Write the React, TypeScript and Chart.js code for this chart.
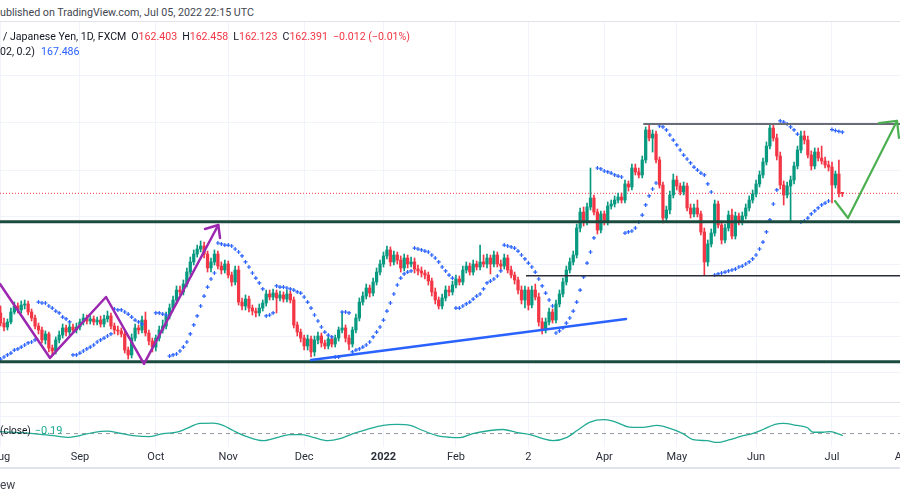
import React, { useEffect, useRef } from "react";
import { Chart, registerables } from "chart.js";

Chart.register(...registerables);
Chart.defaults.font.family = "Roboto, sans-serif";

// ---------------- data (daily bars, index -1 = 30 Jul 2021 ... 243 = 5 Jul 2022) ----------------
const FIRST_BAR_INDEX = -1;
const FIRST_OPEN = 152.42;

const closePrices = [
  151.58, 151.25, 151.67, 152.50, 153.00, 152.67, 153.08, 153.17, 152.50, 152.00,
  151.33, 151.00, 150.17, 150.67, 149.50, 149.25, 150.17, 150.58, 151.17, 150.83,
  151.25, 151.00, 151.25, 151.67, 152.00, 151.75, 151.92, 151.67, 151.83, 151.50,
  151.92, 152.17, 151.33, 151.00, 150.92, 150.67, 149.33, 148.92, 150.33, 151.17,
  151.00, 151.83, 150.75, 150.08, 149.58, 150.33, 151.00, 151.33, 152.17, 152.83,
  153.50, 154.33, 154.17, 154.83, 155.83, 156.67, 157.33, 157.75, 158.00, 157.33,
  156.17, 156.67, 157.33, 156.33, 156.00, 156.50, 155.58, 155.00, 156.00, 153.33,
  153.00, 153.58, 152.83, 152.58, 152.42, 152.83, 153.25, 154.00, 153.75, 154.08,
  153.67, 153.92, 153.58, 154.00, 153.50, 151.42, 150.83, 150.33, 149.67, 150.25,
  149.17, 150.17, 150.50, 149.92, 149.67, 150.25, 149.83, 150.33, 151.00, 151.17,
  150.33, 149.83, 151.00, 152.00, 153.33, 153.83, 154.50, 154.08, 155.00, 155.83,
  156.50, 157.17, 157.67, 156.67, 157.25, 156.83, 156.17, 157.00, 156.50, 156.67,
  156.08, 155.92, 155.75, 155.58, 155.08, 154.17, 153.50, 153.00, 153.67, 154.33,
  154.17, 154.75, 155.25, 155.00, 156.00, 156.33, 155.83, 156.50, 156.25, 156.67,
  156.50, 157.00, 156.50, 157.25, 156.50, 156.33, 157.00, 156.00, 155.58, 155.17,
  154.33, 153.50, 154.33, 153.08, 154.33, 153.75, 151.67, 151.00, 151.67, 152.50,
  151.83, 153.17, 154.00, 155.00, 156.00, 156.67, 157.25, 159.50, 160.83, 160.00,
  161.25, 162.00, 160.83, 159.33, 160.67, 160.00, 161.33, 161.50, 161.83, 162.08,
  161.83, 163.17, 162.92, 164.50, 164.17, 163.92, 165.17, 167.67, 167.00, 167.33,
  165.17, 163.08, 160.33, 161.00, 162.25, 163.50, 163.00, 162.50, 163.00, 161.17,
  160.67, 161.17, 160.67, 159.17, 156.67, 158.17, 159.08, 161.50, 159.75, 158.50,
  159.50, 160.58, 158.83, 160.50, 160.00, 160.50, 161.17, 161.83, 162.33, 163.17,
  163.92, 165.00, 166.33, 167.83, 167.00, 165.50, 163.08, 162.25, 163.00, 163.50,
  164.67, 166.00, 167.17, 166.83, 165.58, 164.67, 165.83, 165.33, 165.08, 164.75,
  164.58, 163.08, 164.00, 162.403, 162.391,
];

const highPrices = [
  153.00, 152.00, 151.92, 152.83, 153.33, 153.25, 153.42, 153.50, 153.42, 152.75,
  152.25, 151.58, 151.25, 150.92, 150.83, 149.75, 150.42, 150.92, 151.50, 151.42,
  151.58, 151.50, 151.58, 151.92, 152.33, 152.25, 152.17, 152.17, 152.08, 152.17,
  152.25, 152.58, 152.42, 151.58, 151.33, 151.17, 150.92, 149.58, 150.67, 151.50,
  151.42, 152.17, 152.50, 151.00, 150.33, 150.58, 151.33, 151.83, 152.50, 153.17,
  153.83, 154.67, 154.67, 155.17, 156.17, 157.08, 157.67, 158.08, 158.42, 158.33,
  157.58, 157.00, 157.67, 157.58, 156.67, 156.83, 156.75, 155.83, 156.33, 156.33,
  153.67, 153.92, 153.83, 153.08, 152.83, 153.17, 153.50, 154.33, 154.33, 154.42,
  154.33, 154.25, 154.17, 154.33, 154.25, 153.75, 151.67, 151.08, 150.58, 150.58,
  150.50, 150.50, 150.83, 150.75, 150.17, 150.50, 150.50, 150.58, 151.25, 152.50,
  151.42, 150.58, 151.25, 152.33, 153.67, 154.17, 154.83, 154.75, 155.33, 156.17,
  156.83, 157.50, 158.00, 157.92, 157.58, 157.50, 157.17, 157.33, 157.25, 157.08,
  157.00, 156.42, 156.25, 156.00, 155.83, 155.33, 154.50, 153.75, 154.00, 154.67,
  154.67, 155.08, 155.58, 155.50, 156.33, 156.67, 156.58, 156.83, 156.75, 158.08,
  157.25, 157.33, 157.25, 157.58, 157.50, 156.83, 157.33, 157.25, 156.33, 155.83,
  155.42, 154.67, 154.67, 154.58, 154.67, 154.83, 154.08, 152.00, 152.00, 152.83,
  152.75, 153.50, 154.33, 155.33, 156.33, 157.00, 157.58, 159.83, 161.17, 161.25,
  161.58, 164.50, 162.25, 161.08, 160.92, 160.92, 161.67, 161.83, 162.17, 162.42,
  162.42, 163.50, 163.42, 164.83, 164.83, 164.50, 165.50, 167.92, 168.17, 167.67,
  167.58, 165.42, 163.33, 161.33, 162.58, 164.00, 163.83, 163.25, 163.33, 163.25,
  161.50, 161.50, 161.83, 160.92, 159.50, 158.50, 159.42, 161.83, 161.75, 160.08,
  159.83, 160.92, 161.08, 160.83, 160.75, 160.83, 161.50, 162.17, 162.67, 163.50,
  164.25, 165.33, 166.67, 168.17, 168.17, 167.33, 165.83, 163.42, 163.33, 163.83,
  165.00, 166.33, 167.58, 167.58, 167.17, 165.92, 166.17, 166.17, 166.33, 165.42,
  165.08, 165.00, 164.25, 165.17, 162.458,
];

const lowPrices = [
  151.33, 150.92, 151.00, 151.50, 152.33, 152.42, 152.42, 152.75, 152.25, 151.75,
  151.08, 150.67, 149.92, 149.83, 149.17, 148.83, 149.00, 149.92, 150.33, 150.50,
  150.58, 150.75, 150.75, 151.00, 151.42, 151.50, 151.50, 151.42, 151.42, 151.25,
  151.25, 151.67, 151.08, 150.67, 150.58, 150.42, 149.08, 148.58, 148.67, 150.08,
  150.67, 150.75, 150.50, 149.75, 149.17, 149.25, 150.08, 150.75, 151.08, 151.92,
  152.58, 153.25, 153.92, 153.92, 154.58, 155.58, 156.42, 157.08, 157.50, 157.00,
  155.83, 155.83, 156.42, 156.08, 155.67, 155.75, 155.33, 154.67, 154.75, 153.08,
  152.67, 152.67, 152.50, 152.25, 152.08, 152.17, 152.58, 153.00, 153.50, 153.50,
  152.42, 153.42, 153.33, 153.33, 153.25, 151.17, 150.50, 150.00, 149.33, 149.33,
  148.75, 148.83, 149.83, 149.58, 149.42, 149.42, 149.58, 149.58, 150.08, 150.75,
  150.00, 149.33, 149.58, 150.75, 151.75, 153.08, 153.58, 153.75, 153.83, 154.75,
  155.58, 156.25, 156.92, 156.33, 156.42, 156.50, 155.83, 155.92, 156.17, 156.25,
  155.75, 155.58, 155.42, 155.25, 154.75, 153.83, 153.17, 152.75, 152.75, 153.42,
  153.83, 153.92, 154.50, 154.75, 154.75, 155.75, 155.58, 155.58, 156.00, 156.00,
  156.25, 156.17, 155.67, 156.25, 156.25, 156.00, 156.08, 155.75, 155.33, 154.83,
  154.00, 153.17, 152.83, 152.67, 152.83, 153.50, 151.33, 150.67, 150.75, 151.42,
  151.58, 151.58, 152.92, 153.75, 154.75, 155.75, 156.42, 157.00, 159.17, 159.67,
  159.75, 161.00, 160.58, 159.00, 159.08, 159.75, 159.75, 161.08, 161.25, 161.58,
  161.58, 161.58, 162.58, 162.67, 163.92, 163.67, 163.67, 164.92, 166.75, 165.83,
  164.92, 162.83, 159.92, 160.08, 160.67, 162.00, 162.67, 162.25, 162.25, 160.92,
  160.33, 160.42, 160.42, 158.92, 155.58, 156.33, 157.92, 158.83, 159.50, 158.17,
  158.25, 159.25, 158.58, 158.58, 159.75, 159.75, 160.25, 160.92, 161.58, 162.08,
  162.92, 163.67, 164.75, 166.08, 166.75, 165.17, 162.75, 161.42, 162.00, 160.00,
  163.17, 164.42, 165.75, 166.50, 165.33, 164.33, 164.42, 165.08, 164.83, 164.50,
  164.25, 161.58, 162.83, 162.08, 162.123,
];

// Parabolic SAR (0.02, 0.02, 0.2), one value per bar, null where no dot is visible
const sarValues = [
  148.58, 148.75, 148.92, 149.08, 149.33, 149.42, 149.58, 149.75, 149.92, 150.00,
  150.17, 153.33, 153.25, 153.25, 153.00, 152.83, 152.58, 152.42, 152.08, 151.92,
  151.67, 148.92, 148.92, 149.08, 149.25, 149.42, 149.58, 149.75, 150.00, 150.17,
  150.33, 150.50, 150.67, 152.75, 152.67, 152.67, 152.50, 152.33, 152.08, 151.83,
  151.67, 151.50, null, null, null, 152.42, 152.42, 152.33, 152.25, 148.83,
  148.92, 149.00, 149.25, 149.58, 150.00, 150.67, 151.42, 152.17, 153.00, 153.83,
  154.58, 155.25, 155.75, 158.25, 158.17, 158.08, 158.08, 158.00, 157.75, 157.50,
  157.17, 156.67, 156.25, 155.75, 155.33, 154.92, 154.42, 152.17, 152.25, 152.42,
  154.67, 154.58, 154.58, 154.50, 154.42, 154.33, 154.17, 154.08, 153.75, 153.33,
  152.83, 152.25, 151.75, 151.25, 150.83, 150.58, 150.42, 148.75, 148.75, 152.50,
  152.50, 152.42, 149.17, 149.33, 149.42, 149.58, 149.75, 150.00, 150.42, 150.83,
  151.25, 151.83, 152.58, 153.25, 154.00, 154.75, 155.33, 155.67, 155.83, 155.92,
  157.83, 157.75, 157.67, 157.58, 157.50, 157.25, 157.00, 156.67, 156.25, 155.92,
  155.58, 155.33, 152.83, 152.83, 153.00, 153.17, 153.33, 153.58, 153.83, 154.00,
  154.42, 154.92, 155.08, 155.25, 155.50, 155.92, 158.08, 158.00, 157.92, 157.83,
  157.58, 157.25, 156.92, 156.58, 156.25, 155.83, 155.25, 154.67, 154.08, 153.50,
  153.00, 150.75, 150.92, 151.17, 151.58, 152.00, 152.58, 153.33, 154.33, 155.42,
  156.58, 157.50, 158.67, 164.50, 164.42, 164.25, 164.17, 164.08, 163.92, 163.83,
  163.75, 159.08, 159.17, 159.25, 159.50, 160.00, 160.58, 161.42, 162.17, 162.75,
  163.25, 168.00, 167.92, 167.67, 167.25, 166.83, 166.42, 166.00, 165.58, 165.25,
  164.92, 164.58, 164.33, 164.08, 163.92, 163.17, 162.50, 155.58, 155.67, 155.75,
  155.83, 155.92, 156.00, 156.08, 156.25, 156.33, 156.50, 156.67, 156.92, 157.25,
  157.75, 158.33, 159.17, 160.17, 161.50, 162.67, 168.42, 168.33, 168.17, 167.92,
  167.67, 167.33, 160.00, 160.08, 160.33, 160.67, 160.92, 161.17, 161.42, 161.58,
  161.75, 167.70, 167.62, 167.55, 167.486,
];

// oscillator pane (sampled at bar positions)
const oscIndex = [
  -1.2, 8.4, 14.2, 19.1, 22.0, 25.8, 29.9, 33.6, 37.4, 42.3, 46.1, 50.1, 53.0, 56.8, 60.6, 63.5,
  66.4, 70.4, 75.1, 79.1, 82.9, 86.4, 89.6, 93.9, 97.4, 101.2, 105.2, 109.9, 113.9, 117.7, 121.4,
  125.5, 129.3, 132.2, 135.9, 140.9, 144.6, 148.7, 152.5, 156.2, 159.1, 163.2, 166.1, 169.9, 173.6,
  176.5, 181.4, 185.2, 189.3, 193.0, 196.8, 199.7, 203.8, 206.7, 210.4, 213.3, 217.1, 220.0, 223.5,
  225.8, 229.9, 232.8, 234.5, 237.4, 239.4, 241.4, 243,
];
const oscValue = [
  0.2, 0.0, -0.2, -0.37, -0.2, 0.1, 0.23, 0.03, -0.2, -0.3, 0.0, 0.13, 0.5, 1.0, 1.03, 0.8,
  0.3, -0.3, -0.7, -0.4, -0.1, -0.1, -0.37, -0.7, -0.5, 0.0, 0.4, 0.8, 0.9, 0.8, 0.3,
  -0.2, -0.37, -0.4, 0.0, 0.3, 0.4, 0.1, -0.1, -0.5, -0.7, -0.37, 0.3, 1.13, 1.37,
  1.23, 0.63, 0.6, 0.8, 0.5, 0.0, -0.6, -0.7, -0.87, -0.6, -0.3, 0.03, 0.4, 0.9,
  1.0, 0.8, 0.6, 0.13, 0.13, 0.2, 0.03, -0.19,
];

// time axis
const monthTickIndex = [-1, 22, 44, 65, 87, 110, 131, 152, 174, 195, 218, 240, 261];
const monthTickLabel = ["Aug", "Sep", "Oct", "Nov", "Dec", "2022", "Feb", "2", "Apr", "May", "Jun", "Jul", "Aug"];
const priceGridLevels = [172.25, 168.33, 164.33, 160.42, 156.42, 153.33, 150.42, 147.42];

const LAST_CLOSE = 162.391;
const supportLevels = [160.03, 148.36];
const rangeTopLevel = { fromIndex: 185.3, price: 168.17 };
const rangeMidLevel = { fromIndex: 151.3, price: 155.53 };

// hand drawings (bar index, price)
const zigzagIndex = [-1.16, 13.33, 29.57, 40.58, 62.12];
const zigzagPrice = [154.83, 148.67, 153.75, 148.17, 159.75];
const zigzagHeadIndex = [58.26, 62.12, 62.61];
const zigzagHeadPrice = [159.42, 159.75, 158.67];
const trendIndex = [88.99, 180.29];
const trendPrice = [148.5, 151.92];
const arrowIndex = [240.87, 244.64, 258.84];
const arrowPrice = [161.75, 160.33, 168.42];
const arrowHeadIndex = [253.6, 258.84, 259.42];
const arrowHeadPrice = [168.25, 168.42, 167.0];

// ---------------- layout / style ----------------
const X_MIN = -9.855;
const X_MAX = 268.41;
const UP = "#089981";
const DOWN = "#f23645";
const GRID = "#f0f3fa";

const pts = (xs: number[], ys: number[]) => xs.map((x, k) => ({ x, y: ys[k] }));

function lineDs(data: any[], color: string, width: number, order: number, extra: any = {}) {
  return {
    type: "line",
    data,
    borderColor: color,
    backgroundColor: color,
    borderWidth: width,
    pointRadius: 0,
    pointHoverRadius: 0,
    fill: false,
    tension: 0,
    order,
    borderCapStyle: "round",
    borderJoinStyle: "round",
    ...extra,
  };
}

function priceConfig(): any {
  const opens = closePrices.map((c, k) => (k === 0 ? FIRST_OPEN : closePrices[k - 1]));
  const xs = closePrices.map((_, k) => FIRST_BAR_INDEX + k);
  const colors = closePrices.map((c, k) => (c >= opens[k] ? UP : DOWN));
  const wickData = xs.map((x, k) => ({ x, y: [lowPrices[k], highPrices[k]] }));
  const bodyData = xs.map((x, k) => ({ x, y: [opens[k], closePrices[k]] }));
  const sarData = xs
    .map((x, k) => ({ x, y: sarValues[k] }))
    .filter((p) => p.y !== null);

  const datasets: any[] = [
    lineDs(pts(zigzagIndex, zigzagPrice), "#9c27b0", 2.5, 1),
    lineDs(pts(zigzagHeadIndex, zigzagHeadPrice), "#9c27b0", 2.5, 1),
    lineDs(pts(trendIndex, trendPrice), "#2962ff", 2.5, 1),
    lineDs(pts(arrowIndex, arrowPrice), "#4caf50", 2.2, 1),
    lineDs(pts(arrowHeadIndex, arrowHeadPrice), "#4caf50", 2.2, 1),
    ...supportLevels.map((p) =>
      lineDs([{ x: X_MIN, y: p }, { x: X_MAX, y: p }], "#1b4a3e", 3, 2, { borderCapStyle: "butt" })
    ),
    lineDs([{ x: rangeTopLevel.fromIndex, y: rangeTopLevel.price }, { x: X_MAX, y: rangeTopLevel.price }], "#6a6d78", 2, 2, { borderCapStyle: "butt" }),
    lineDs([{ x: rangeMidLevel.fromIndex, y: rangeMidLevel.price }, { x: X_MAX, y: rangeMidLevel.price }], "#2a2e39", 1.5, 2, { borderCapStyle: "butt" }),
    {
      type: "line",
      data: sarData,
      showLine: false,
      pointStyle: "cross",
      pointRadius: 2,
      pointHoverRadius: 0,
      pointBorderWidth: 1.2,
      pointBorderColor: "#2962ff",
      pointBackgroundColor: "#2962ff",
      order: 3,
    },
    {
      type: "bar",
      data: bodyData,
      backgroundColor: colors,
      barThickness: 2.6,
      minBarLength: 1,
      grouped: false,
      borderWidth: 0,
      order: 4,
    },
    {
      type: "bar",
      data: wickData,
      backgroundColor: colors,
      barThickness: 1,
      grouped: false,
      borderWidth: 0,
      order: 5,
    },
    lineDs([{ x: X_MIN, y: LAST_CLOSE }, { x: X_MAX, y: LAST_CLOSE }], "#f23645", 1, 6, { borderDash: [1, 2], borderCapStyle: "butt" }),
  ];

  return {
    type: "bar",
    data: { datasets },
    options: {
      animation: false,
      responsive: false,
      maintainAspectRatio: false,
      events: [],
      layout: { padding: 0, autoPadding: false },
      plugins: { legend: { display: false }, tooltip: { enabled: false } },
      scales: {
        x: {
          type: "linear",
          min: X_MIN,
          max: X_MAX,
          offset: false,
          ticks: { display: false },
          grid: { color: GRID, drawTicks: false, offset: false },
          border: { display: false },
          afterBuildTicks: (s: any) => {
            s.ticks = monthTickIndex.map((v) => ({ value: v }));
          },
        },
        y: {
          type: "linear",
          min: 145.0,
          max: 176.667,
          ticks: { display: false },
          grid: { color: GRID, drawTicks: false },
          border: { display: false },
          afterBuildTicks: (s: any) => {
            s.ticks = priceGridLevels.map((v) => ({ value: v }));
          },
        },
      },
    },
  };
}

function oscConfig(): any {
  return {
    type: "line",
    data: {
      datasets: [
        lineDs(pts(oscIndex, oscValue), "#22ab94", 1.3, 1, { tension: 0.4, cubicInterpolationMode: "monotone" }),
        lineDs([{ x: X_MIN, y: 0 }, { x: X_MAX, y: 0 }], "#9598a1", 1, 2, { borderDash: [4, 4], borderCapStyle: "butt" }),
      ],
    },
    options: {
      animation: false,
      responsive: false,
      maintainAspectRatio: false,
      events: [],
      layout: { padding: 0, autoPadding: false },
      plugins: { legend: { display: false }, tooltip: { enabled: false } },
      scales: {
        x: {
          type: "linear",
          min: X_MIN,
          max: X_MAX,
          offset: false,
          grid: { color: GRID, drawTicks: false, offset: false },
          border: { display: false },
          afterBuildTicks: (s: any) => {
            s.ticks = monthTickIndex.map((v) => ({ value: v }));
          },
          ticks: {
            autoSkip: false,
            maxRotation: 0,
            minRotation: 0,
            padding: 4,
            color: "#2a2e39",
            font: (ctx: any) => ({ size: 11, family: "Roboto, sans-serif", weight: ctx.index === 5 ? "bold" : "normal" }),
            callback: (_v: any, i: number) => monthTickLabel[i] ?? "",
          },
        },
        y: {
          type: "linear",
          min: -1.3,
          max: 3.1,
          ticks: { display: false },
          grid: { color: GRID, drawTicks: false },
          border: { display: false },
          afterBuildTicks: (s: any) => {
            s.ticks = [{ value: 1.7 }];
          },
        },
      },
    },
  };
}

const txt: React.CSSProperties = {
  position: "absolute",
  whiteSpace: "nowrap",
  fontFamily: "Roboto, sans-serif",
  fontSize: 11,
  lineHeight: "14px",
  zIndex: 2,
};

export default function App() {
  const priceRef = useRef<HTMLCanvasElement>(null);
  const oscRef = useRef<HTMLCanvasElement>(null);

  useEffect(() => {
    const pc = new Chart(priceRef.current as HTMLCanvasElement, priceConfig());
    const oc = new Chart(oscRef.current as HTMLCanvasElement, oscConfig());
    return () => {
      pc.destroy();
      oc.destroy();
    };
  }, []);

  const red = "#f23645";
  return (
    <div style={{ position: "fixed", left: 0, top: 0, width: 900, height: 500, overflow: "hidden", background: "#ffffff" }}>
      <div style={{ ...txt, left: 0, top: 6, fontSize: 10.7, color: "#434651" }}>ublished on TradingView.com, Jul 05, 2022 22:15 UTC</div>
      <div style={{ position: "absolute", left: 0, top: 21, width: 900, height: 1, background: "#e0e3eb" }} />
      <canvas ref={priceRef} width={960} height={380} style={{ position: "absolute", left: -30, top: 22, width: 960, height: 380 }} />
      <div style={{ position: "absolute", left: 0, top: 402, width: 900, height: 1, background: "#e0e3eb", zIndex: 1 }} />
      <canvas ref={oscRef} width={960} height={66} style={{ position: "absolute", left: -30, top: 402, width: 960, height: 66 }} />
      <div style={{ position: "absolute", left: 0, top: 467, width: 900, height: 2, background: "#e0e3eb" }} />

      <div style={{ ...txt, left: 3, top: 30, fontSize: 10.6, color: "#131722" }}>
        <span>/ Japanese Yen, 1D, FXCM</span>
        <span style={{ marginLeft: 5 }}>O</span>
        <span style={{ color: red }}>162.403</span>
        <span style={{ marginLeft: 5 }}>H</span>
        <span style={{ color: red }}>162.458</span>
        <span style={{ marginLeft: 5 }}>L</span>
        <span style={{ color: red }}>162.123</span>
        <span style={{ marginLeft: 5 }}>C</span>
        <span style={{ color: red }}>162.391</span>
        <span style={{ marginLeft: 5, color: red }}>−0.012 (−0.01%)</span>
      </div>
      <div style={{ ...txt, left: 0, top: 45, fontSize: 10.6, color: "#131722" }}>
        <span>02, 0.2)</span>
        <span style={{ marginLeft: 6, color: "#2962ff" }}>167.486</span>
      </div>

      <div style={{ ...txt, left: 0, top: 424, fontSize: 10, color: "#131722" }}>
        <span>(close)</span>
        <span style={{ marginLeft: 4, fontSize: 11, color: "#22ab94" }}>−0.19</span>
      </div>

      <div style={{ ...txt, left: 0, top: 478, fontSize: 12, color: "#434651" }}>ew</div>
    </div>
  );
}
